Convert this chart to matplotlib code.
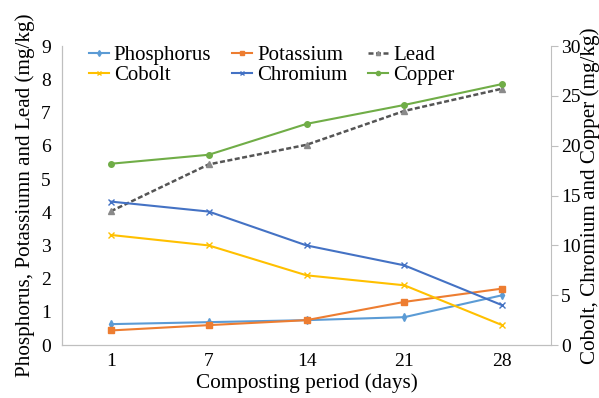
import matplotlib
matplotlib.use("Agg")
import matplotlib.pyplot as plt

plt.rcParams['font.family'] = ['Liberation Serif', 'DejaVu Serif']

days = ["1", "7", "14", "21", "28"]
phosphorus = [0.63, 0.69, 0.75, 0.84, 1.5]
potassium = [0.44, 0.6, 0.75, 1.3, 1.7]
lead = [4.03, 5.44, 6.03, 7.05, 7.72]
cobolt = [11.05, 10.0, 7.0, 6.0, 2.0]
chromium = [14.4, 13.4, 10.0, 8.0, 4.0]
copper = [18.2, 19.1, 22.2, 24.1, 26.2]

x = list(range(len(days)))

fig = plt.figure(figsize=(5.99, 3.98), dpi=100)
ax = fig.add_axes([0.1035, 0.133, 0.8165, 0.751])
ax2 = ax.twinx()

hp, = ax.plot(x, phosphorus, color='#5B9BD5', marker='d', ms=4, lw=1.5, label='Phosphorus')
hk, = ax.plot(x, potassium, color='#ED7D31', marker='s', ms=4, lw=1.5, label='Potassium')
hl, = ax.plot(x, lead, color='#555555', marker='^', ms=4, mfc='#8a8a8a', mec='#8a8a8a',
              lw=1.8, ls=(0, (2, 1)), label='Lead')
hco, = ax2.plot(x, cobolt, color='#FFC000', marker='x', ms=4, lw=1.5, label='Cobolt')
hcr, = ax2.plot(x, chromium, color='#4472C4', marker='x', ms=4, lw=1.5, label='Chromium')
hcu, = ax2.plot(x, copper, color='#70AD47', marker='o', ms=4, lw=1.5, label='Copper')

ax.set_xlim(-0.5, len(days) - 0.5)
ax.set_ylim(0, 9)
ax2.set_ylim(0, 30)
ax.set_xticks(x)
ax.set_xticklabels(days)
ax.set_yticks(range(0, 10))
ax2.set_yticks(range(0, 31, 5))

for a in (ax, ax2):
    for s in a.spines.values():
        s.set_color('#bfbfbf')
    a.spines['top'].set_visible(False)
ax.spines['right'].set_visible(False)
ax.tick_params(axis='y', length=0, labelsize=14, pad=8)
ax.tick_params(axis='x', length=0, labelsize=14, pad=6)
ax2.tick_params(axis='y', length=5, color='#bfbfbf', labelsize=14, pad=2)

ax.set_xlabel('Composting period (days)', fontsize=15.3, labelpad=2)
ax.set_ylabel('Phosphorus, Potassiumn and Lead (mg/kg)', fontsize=15.2, labelpad=4)
ax2.set_ylabel('Cobolt, Chromium and Copper (mg/kg)', fontsize=15.2, labelpad=0)

handles = [hp, hco, hk, hcr, hl, hcu]
labels = [h.get_label() for h in handles]
leg = ax.legend(handles, labels, ncol=3, loc='upper left', bbox_to_anchor=(0.025, 1.05),
                fontsize=15, frameon=False, handlelength=0.95, handletextpad=0.25,
                columnspacing=1.0, labelspacing=0.0, borderpad=0.2)
for lh in leg.legend_handles:
    lh.set_markersize(3)
ax2.set_zorder(ax.get_zorder() + 1)
ax2.patch.set_visible(False)

fig.savefig('out.png', dpi=100)
